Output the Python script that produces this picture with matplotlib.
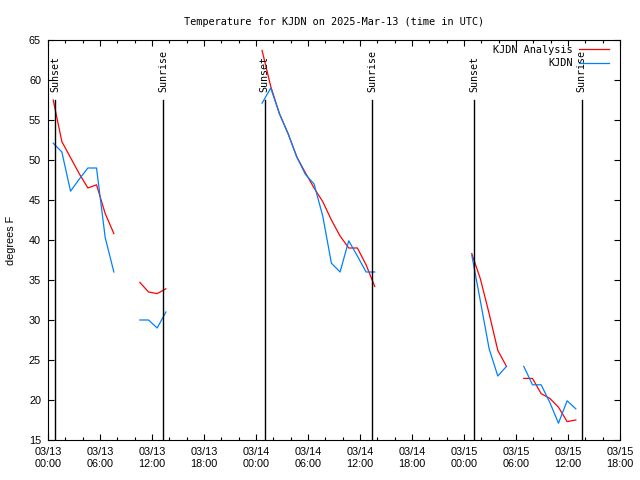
import matplotlib
matplotlib.use('Agg')
import matplotlib.pyplot as plt
from matplotlib.ticker import MultipleLocator
import numpy as np

# hours since 03/13 00:00 UTC
seg_hours = [
    [0.6, 1.6, 2.6, 3.6, 4.6, 5.6, 6.6, 7.6],
    [10.6, 11.6, 12.6, 13.6],
    [24.7, 25.7, 26.7, 27.7, 28.7, 29.7, 30.7, 31.7, 32.7, 33.7, 34.7, 35.7, 36.7, 37.7],
    [48.9, 49.9, 50.9, 51.9, 52.9],
    [54.9, 55.9, 56.9, 57.9, 58.9, 59.9, 60.9],
]
analysis_temp = [
    [57.5, 52.3, 50.3, 48.3, 46.5, 46.9, 43.3, 40.8],
    [34.7, 33.5, 33.3, 33.9],
    [63.7, 59.2, 55.8, 53.3, 50.4, 48.4, 46.5, 44.8, 42.5, 40.5, 39.0, 39.0, 36.9, 34.2],
    [38.3, 35.1, 30.8, 26.2, 24.2],
    [22.7, 22.7, 20.8, 20.2, 19.1, 17.3, 17.5],
]
obs_temp = [
    [52.1, 51.0, 46.1, 47.6, 49.0, 49.0, 40.3, 36.0],
    [30.0, 30.0, 29.0, 31.0],
    [57.1, 59.0, 55.8, 53.3, 50.4, 48.2, 47.0, 43.0, 37.1, 36.0, 39.9, 38.0, 36.0, 36.0],
    [38.1, 32.3, 26.4, 23.0, 24.2],
    [24.2, 21.9, 21.9, 19.7, 17.1, 19.9, 18.9],
]
sun_hours = [0.8, 13.3, 25.0, 37.4, 49.15, 61.6]
sun_labels = ['Sunset', 'Sunrise', 'Sunset', 'Sunrise', 'Sunset', 'Sunrise']
tick_hours = [0, 6, 12, 18, 24, 30, 36, 42, 48, 54, 60, 66]
tick_labels = ['03/13\n00:00', '03/13\n06:00', '03/13\n12:00', '03/13\n18:00',
               '03/14\n00:00', '03/14\n06:00', '03/14\n12:00', '03/14\n18:00',
               '03/15\n00:00', '03/15\n06:00', '03/15\n12:00', '03/15\n18:00']

mono = 'DejaVu Sans Mono'
sans = 'Liberation Sans'

fig = plt.figure(figsize=(6.4, 4.8), dpi=100)
ax = fig.add_axes([48/640, 40/480, 572/640, 400/480])

for i in range(len(seg_hours)):
    ax.plot(seg_hours[i], analysis_temp[i], color='#ff0000', lw=0.9,
            label='KJDN Analysis' if i == 0 else None)
    ax.plot(seg_hours[i], obs_temp[i], color='#0080ff', lw=0.9,
            label='KJDN' if i == 0 else None)

for h, lab in zip(sun_hours, sun_labels):
    ax.plot([h, h], [15, 57.5], color='black', lw=1)
    ax.text(h, 58.5, lab, rotation=90, ha='center', va='bottom',
            family=mono, fontsize=7.2)

ax.set_xlim(0, 66)
ax.set_ylim(15, 65)
ax.set_xticks(tick_hours)
ax.set_xticklabels(tick_labels, family=sans, fontsize=7.8, linespacing=1.25)
ax.xaxis.set_minor_locator(MultipleLocator(2))
ax.set_yticks(np.arange(15, 66, 5))
ax.set_yticklabels([str(v) for v in range(15, 66, 5)], family=sans, fontsize=7.8)
ax.tick_params(which='both', direction='in', top=True, right=True, width=0.8)
ax.tick_params(which='major', length=4.5, pad=5)
ax.tick_params(which='minor', length=2.5)
for s in ax.spines.values():
    s.set_linewidth(0.8)

ax.set_ylabel('degrees F', family=sans, fontsize=7.8, labelpad=9)
ax.set_title('Temperature for KJDN on 2025-Mar-13 (time in UTC)',
             family=mono, fontsize=7.4, pad=11)

ax.legend(loc='upper right', bbox_to_anchor=(1 - 9/572, 1 - 3/400),
          frameon=False, markerfirst=False,
          prop={'family': mono, 'size': 7.4}, handlelength=2.9,
          handletextpad=0.6, labelspacing=0.3, borderaxespad=0,
          borderpad=0.2)

fig.savefig('out.png', dpi=100)
